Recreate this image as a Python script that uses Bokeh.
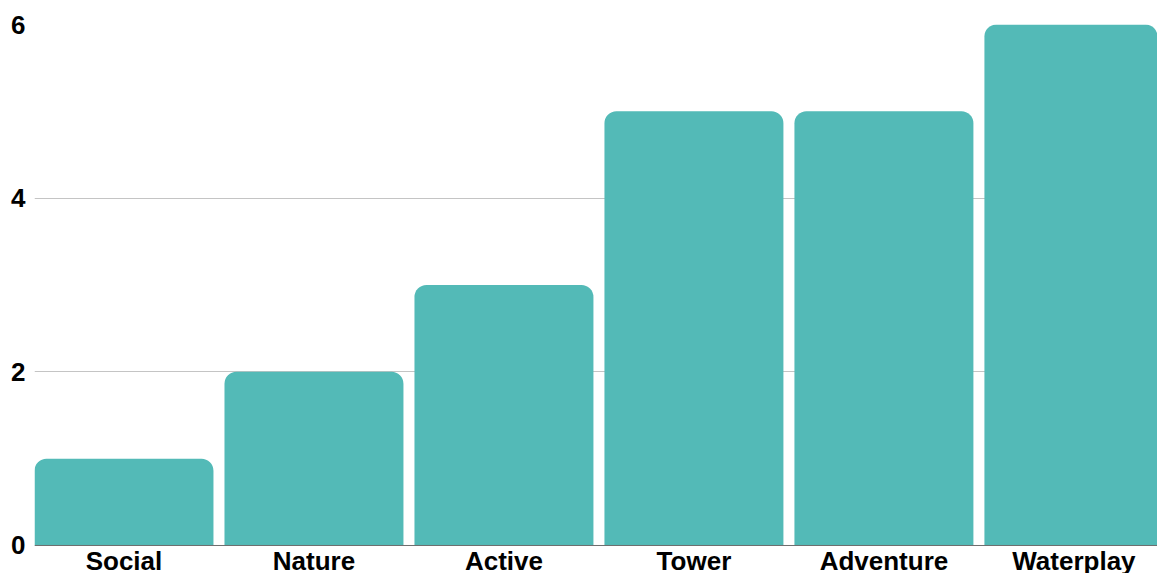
from bokeh.plotting import figure
from bokeh.models import ColumnDataSource, FixedTicker, Range1d, LabelSet, Span
from bokeh.embed import file_html
from bokeh.resources import INLINE
from bokeh.core.properties import value

categories = ["Social", "Nature", "Active", "Tower", "Adventure", "Waterplay"]
counts = [1, 2, 3, 5, 5, 6]
y_ticks = [0, 2, 4, 6]
grid_ticks = [2, 4, 6]

xs = list(range(len(categories)))
src = ColumnDataSource(dict(x=xs, top=counts, cat=categories, zero=[0] * len(xs)))

p = figure(width=1157, height=573, output_backend="svg", toolbar_location=None,
           x_range=Range1d(-0.471, 5.44), y_range=Range1d(-0.3225, 6),
           x_axis_location=None,
           min_border_left=34, min_border_right=0, min_border_top=24, min_border_bottom=0)
p.outline_line_color = None
p.background_fill_color = "white"
p.border_fill_color = "white"

p.vbar(x="x", top="top", bottom=0, width=0.942, source=src,
       fill_color="#53BAB7", line_color=None, border_radius=(12, 12, 0, 0))

p.xgrid.grid_line_color = None
p.ygrid.grid_line_color = "#C4C4C4"
p.ygrid.grid_line_width = 1
p.ygrid.ticker = FixedTicker(ticks=grid_ticks)

p.add_layout(Span(location=0, dimension="width", line_color="#6E6E6E", line_width=1))

p.yaxis.ticker = FixedTicker(ticks=y_ticks)
p.yaxis.axis_line_color = None
p.yaxis.major_tick_line_color = None
p.yaxis.minor_tick_line_color = None
p.yaxis.major_tick_out = 0
p.yaxis.minor_tick_out = 0
p.yaxis.major_label_standoff = 9
p.yaxis.major_label_text_font = "Liberation Sans"
p.yaxis.major_label_text_font_style = "bold"
p.yaxis.major_label_text_font_size = "26px"
p.yaxis.major_label_text_color = "#000000"

labels = LabelSet(x="x", y="zero", text="cat", source=src, y_offset=-25,
                  text_align="center", text_baseline="alphabetic",
                  text_font=value("Liberation Sans"), text_font_style="bold",
                  text_font_size="26px", text_color="#000000")
p.add_layout(labels)

open("out.html", "w").write(file_html(p, INLINE))
